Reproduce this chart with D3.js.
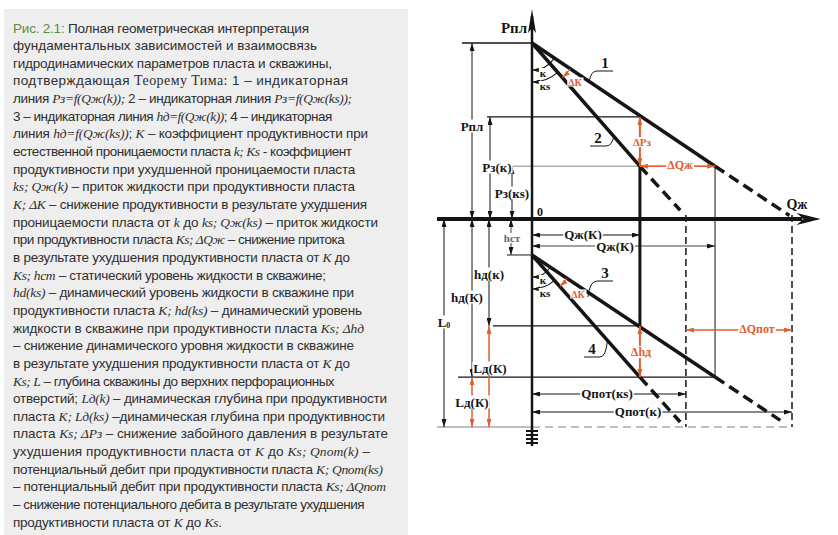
<!DOCTYPE html>
<html lang="ru">
<head>
<meta charset="UTF-8">
<script src="https://d3js.org/d3.v7.min.js"></script>
<style>
  body { margin: 0; background: #fff; }
  svg { display: block; }
  .cap { font: 13.5px "Liberation Sans", Arial, sans-serif; fill: #2e2e2e; }
  .lbl { font-family: "Liberation Serif", "Times New Roman", serif; font-weight: bold; }
</style>
<title>Рис. 2.1</title>
</head>
<body>
<svg width="838" height="535"></svg>
<script>
// caption: *..* italic serif, {..} serif, [..] green
const captionLines = [
  '[Рис. 2.1:] Полная геометрическая интерпретация',
  'фундаментальных зависимостей и взаимосвязь',
  'гидродинамических параметров пласта и скважины,',
  'подтверждающая {Теорему Тима:} 1 – индикаторная',
  'линия *Pз=f(Qж(k));* 2 – индикаторная линия *Pз=f(Qж(ks));*',
  '3 – индикаторная линия *hд=f(Qж(k))*; 4 – индикаторная',
  'линия *hд=f(Qж(ks))*; *K* – коэффициент продуктивности при',
  'естественной проницаемости пласта *k; Ks* - коэффициент',
  'продуктивности при ухудшенной  проницаемости пласта',
  '*ks; Qж(k)* – приток жидкости при продуктивности пласта',
  '*K; ΔK* – снижение продуктивности в результате ухудшения',
  'проницаемости пласта от *k* до *ks; Qж(ks)* – приток жидкости',
  'при продуктивности пласта *Ks; ΔQж* – снижение притока',
  'в результате ухудшения продуктивности пласта от *K* до',
  '*Ks; hст* – статический уровень жидкости в скважине;',
  '*hd(ks)* – динамический уровень жидкости в скважине при',
  'продуктивности пласта *K; hd(ks)* – динамический уровень',
  'жидкости в скважине при продуктивности пласта *Ks; Δhд*',
  '– снижение динамического уровня жидкости в скважине',
  'в результате ухудшения продуктивности пласта от *K* до',
  '*Ks; L* – глубина скважины до верхних перфорационных',
  'отверстий; *Lд(k)* – динамическая глубина при продуктивности',
  'пласта *K; Lд(ks)* –динамическая глубина при продуктивности',
  'пласта *Ks; ΔPз* – снижение забойного давления в результате',
  'ухудшения продуктивности пласта от *K* до *Ks; Qпот(k)* –',
  'потенциальный дебит при продуктивности пласта *K; Qпот(ks)*',
  '– потенциальный дебит при продуктивности пласта *Ks; ΔQпот*',
  '– снижение потенциального дебита в результате ухудшения',
  'продуктивности пласта от *K* до *Ks*.'
];
// right end of each caption line, px
const captionEnds = [309, 317, 332, 348, 352, 320, 368, 352, 355, 355, 367, 378, 344, 350, 326,
  354, 362, 364, 354, 350, 330, 387, 385, 388, 370, 383, 386, 358, 222];

// diagram values: Q in % of Qпот(к), P in % of Pпл, depth in % of L0
const qNames = ['Qж(К)', 'Qж(К)', 'Qпот(кs)', 'Qпот(к)'];
const qValues = [41.5, 70.4, 59.2, 100];
const pNames = ['Pпл', 'Pз(к)', 'Pз(кs)'];
const pValues = [100, 58, 30];
const hNames = ['hст', 'hд(к)', 'hд(К)', 'L'];
const hValues = [17.3, 51.4, 76, 100];
// indicator lines, [Q, P] for 1 and 2, [Q, h] for 3 and 4
const line1 = [[0, 100], [70.4, 30], [99, 2]];
const line2 = [[0, 100], [41.5, 30], [57, 5]];
const line3 = [[0, 17.3], [70.4, 76], [95.5, 96.8]];
const line4 = [[0, 17.3], [41.5, 76], [57, 97.6]];

const svg = d3.select('svg');
const BLK = '#151515', ORG = '#e0602e';

// caption panel
svg.append('rect').attr('x', 4).attr('y', 9).attr('width', 404).attr('height', 526).attr('fill', '#eeeeee');
captionLines.forEach((ln, i) => {
  const t = svg.append('text').attr('class', 'cap').attr('x', 13).attr('y', 32.5 + i * 17.65);
  let n = 0;
  ln.split(/(\*[^*]+\*|\{[^}]+\}|\[[^\]]+\])/).filter(s => s).forEach(s => {
    const ts = t.append('tspan');
    const body = /^[*{[]/.test(s) ? s.slice(1, -1) : s;
    n += body.length;
    ts.text(body);
    if (s[0] === '*') ts.attr('font-family', '"Liberation Serif", serif').attr('font-style', 'italic').attr('font-size', 13.5);
    else if (s[0] === '{') ts.attr('font-family', '"Liberation Serif", serif').attr('font-size', 14);
    else if (s[0] === '[') ts.attr('fill', '#5c8f3f');
  });
  // spread letters so the line ends where it does in the figure
  const w = t.node().getComputedTextLength();
  const ls = Math.max(-0.5, Math.min(1.2, (captionEnds[i] - 13 - w) / (n - 1)));
  t.attr('letter-spacing', ls);
});

// scales
const x = d3.scaleLinear().domain([0, 100]).range([532, 792]);
const yP = d3.scaleLinear().domain([0, 100]).range([219, 43]);
const yH = d3.scaleLinear().domain([0, 100]).range([219, 427]);

const defs = svg.append('defs');
[['ab', BLK], ['ao', ORG]].forEach(([id, c]) => {
  defs.append('marker').attr('id', id).attr('viewBox', '0 0 16 10')
    .attr('refX', 16).attr('refY', 5).attr('markerWidth', 8).attr('markerHeight', 5)
    .attr('markerUnits', 'userSpaceOnUse').attr('orient', 'auto-start-reverse')
    .append('path').attr('d', 'M0,0L16,5L0,10z').attr('fill', c);
});

const g = svg.append('g');

function seg(x1, y1, x2, y2, w, col, dash) {
  return g.append('line').attr('x1', x1).attr('y1', y1).attr('x2', x2).attr('y2', y2)
    .attr('stroke', col || BLK).attr('stroke-width', w).attr('stroke-dasharray', dash || null);
}
function dim(x1, y1, x2, y2, col, w) {
  const m = col === ORG ? 'ao' : 'ab';
  return seg(x1, y1, x2, y2, w || 1, col || BLK)
    .attr('marker-start', `url(#${m})`).attr('marker-end', `url(#${m})`);
}
function label(txt, x0, y0, opt = {}) {
  const t = g.append('text').attr('class', 'lbl').attr('x', x0).attr('y', y0)
    .attr('text-anchor', opt.anchor || 'middle').attr('dominant-baseline', 'central')
    .attr('font-size', opt.size || 13).attr('fill', opt.color || BLK).text(txt);
  if (opt.bg) {
    const b = t.node().getBBox();
    g.insert('rect', () => t.node()).attr('x', b.x - 1).attr('y', b.y + 1)
      .attr('width', b.width + 2).attr('height', b.height - 2).attr('fill', '#fff');
  }
  return t;
}

const y0 = yP(0);

// level lines
seg(462, yP(pValues[0]), x(0), yP(pValues[0]), 1.3);
seg(487, yP(pValues[1]), x(qValues[0]), yP(pValues[1]), 1.3);
seg(508, yP(pValues[2]), x(qValues[1]), yP(pValues[2]), 0.8, '#666');
seg(507, yH(hValues[0]), x(0), yH(hValues[0]), 1);
seg(493, yH(hValues[1]), x(qValues[0]), yH(hValues[1]), 1.2);
seg(458, yH(hValues[2]), x(qValues[1]), yH(hValues[2]), 1.2);
seg(x(qValues[0]), yP(pValues[2]), x(qValues[0]), yH(hValues[1]), 3);
seg(x(qValues[1]), yP(pValues[2]), x(qValues[1]), yH(hValues[2]), 1);
[qValues[2], qValues[3]].forEach(q => seg(x(q), y0 - 4, x(q), yH(hValues[3]), 1.5, BLK, '7,4'));
seg(437, yH(hValues[3]), x(0), yH(hValues[3]), 1.5, '#aaa');
seg(x(0), yH(hValues[3]), x(qValues[3]), yH(hValues[3]), 1.5, '#aaa', '8,5');

// indicator lines
function indicator(pts, ys) {
  seg(x(pts[0][0]), ys(pts[0][1]), x(pts[1][0]), ys(pts[1][1]), 3.5);
  seg(x(pts[1][0]), ys(pts[1][1]), x(pts[2][0]), ys(pts[2][1]), 3.5, BLK, '11,6');
}
indicator(line1, yP); indicator(line2, yP);
indicator(line3, yH); indicator(line4, yH);

// axes
seg(437, y0, x(104), y0, 4);
g.append('path').attr('d', `M${x(111)},${y0}L${x(111) - 24},${y0 - 6}L${x(111) - 17},${y0}L${x(111) - 24},${y0 + 6}Z`).attr('fill', BLK);
seg(x(0), 446, x(0), 16, 2.5);
g.append('path').attr('d', `M${x(0)},9L${x(0) - 4},33L${x(0)},28L${x(0) + 4},33Z`).attr('fill', BLK);
[431, 435, 439, 443].forEach(yy => seg(x(0) - 6, yy, x(0) + 6, yy, 2));

// dimensions, pressures
dim(472, yP(pValues[0]), 472, y0);
dim(490, yP(pValues[1]), 490, y0);
dim(512, yP(pValues[2]), 512, y0);
// depths
dim(444, y0, 444, yH(hValues[3]));
dim(511, y0, 511, yH(hValues[0]), '#444');
dim(489, y0, 489, yH(hValues[1]));
dim(472, y0, 472, yH(hValues[2]));
dim(489, yH(hValues[1]), 489, yH(hValues[3]), ORG, 1.5);
dim(472, yH(hValues[2]), 472, yH(hValues[3]), ORG, 1.5);
// rates
dim(x(0), 235, x(qValues[0]), 235);
dim(x(0), 246, x(qValues[1]), 246, BLK, 0.8);
dim(x(0), 394, x(qValues[2]), 394);
dim(x(0), 412, x(qValues[3]), 412);
// deltas
dim(x(qValues[0]), yP(pValues[1]), x(qValues[0]), yP(pValues[2]), ORG, 2);
dim(x(qValues[0]), yP(pValues[2]), x(qValues[1]), yP(pValues[2]), ORG, 1.5);
dim(x(qValues[0]), yH(hValues[1]), x(qValues[0]), yH(hValues[2]), ORG, 2);
dim(x(qValues[2]), 330, x(qValues[3]), 330, ORG, 1.5);

// angle arcs
function ang(pts, ys) {
  return Math.atan2(x(pts[1][0]) - x(pts[0][0]), ys(pts[1][1]) - ys(pts[0][1]));
}
function arc(cx, cy, r, a0, a1, col, arrow) {
  const p = a => [cx + r * Math.sin(a), cy + r * Math.cos(a)];
  const [ax, ay] = p(a0), [bx, by] = p(a1);
  const path = g.append('path').attr('d', `M${ax},${ay}A${r},${r} 0 0 0 ${bx},${by}`)
    .attr('fill', 'none').attr('stroke', col).attr('stroke-width', 1.1);
  if (arrow) path.attr('marker-start', `url(#${col === ORG ? 'ao' : 'ab'})`);
  return path;
}
function angles(pa, pb, ys, rk, rks, rdk, dly, dlx) {
  const cx = x(pa[0][0]), cy = ys(pa[0][1]);
  const a1 = ang(pa, ys), a2 = ang(pb, ys);
  arc(cx, cy, rk, 0, a1, BLK, true);
  arc(cx, cy, rks, 0, a2, BLK, true);
  arc(cx, cy, rdk, a2, a1, ORG, true);
  label('к', cx + 11, cy + rk + 3, { size: 11, bg: true });
  label('кs', cx + 13, cy + rks + 4, { size: 11, bg: true });
  label('ΔК', dlx, dly, { size: 10, color: ORG, bg: true });
}
angles(line1, line2, yP, 27, 39, 46, 82, 575);
angles(line3, line4, yH, 22, 34, 42, 294, 578);

// line numbers with leaders
function tag(n, tx, ty, lx, ly, dir) {
  label(n, tx, ty, { size: 15 });
  const ux = tx + dir * 8;
  seg(tx - 8, ty + 8, tx + 8, ty + 8, 1);
  g.append('path').attr('d', `M${ux},${ty + 8}Q${lx + (ux - lx) * 0.2},${ty + 8} ${lx},${ly}`)
    .attr('fill', 'none').attr('stroke', BLK).attr('stroke-width', 1);
}
tag('1', 605, 63, x(22), yP(78), -1);
tag('2', 598, 138, x(31.5), yP(47.5), 1);
tag('3', 605, 273, x(21.5), yH(37.5), -1);
tag('4', 592, 349, x(29), yH(58.5), 1);

// labels
label('Pпл', 514, 28, { size: 15 });
label('Qж', 797, 204, { size: 14 });
label('0', 540, 212, { size: 12 });
label(pNames[0], 472, 126, { bg: true });
label(pNames[1], 497, 167, { bg: true });
label(pNames[2], 512, 193, { bg: true });
const L0 = label(hNames[3], 444, 322, { bg: true });
L0.append('tspan').attr('font-size', 8).attr('dy', 3).text('0');
label(hNames[0], 512, 238, { color: '#666', size: 11, bg: true });
label(hNames[1], 489, 274, { bg: true });
label(hNames[2], 467, 297, { bg: true });
label('Lд(К)', 490, 368, { bg: true });
label('Lд(К)', 472, 402, { bg: true });
label(qNames[0], 583, 234, { bg: true });
label(qNames[1], 615, 246, { bg: true });
label(qNames[2], 607, 393, { bg: true });
label(qNames[3], 638, 411, { bg: true });
label('ΔPз', 642, 142, { color: ORG, size: 11, bg: true });
label('ΔQж', 680, 165, { color: ORG, size: 12, bg: true });
label('Δhд', 641, 352, { color: ORG, size: 12, bg: true });
label('ΔQпот', 757, 329, { color: ORG, size: 12, bg: true });
</script>
</body>
</html>
